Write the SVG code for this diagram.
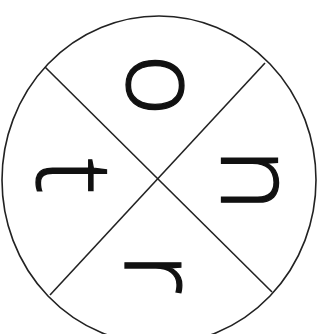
<svg xmlns="http://www.w3.org/2000/svg" width="325" height="334" viewBox="0 0 325 334">
<style>
.ln{stroke:#222;stroke-width:1.6;fill:none}
.lt{font-family:"Open Sans","Liberation Sans",sans-serif;font-weight:300;font-size:105px;fill:#111;stroke:#111;stroke-width:1.3;text-anchor:middle}
</style>
<rect width="325" height="334" fill="#fff"/>
<g id="connectors">
<ellipse class="ln" cx="159" cy="180" rx="157" ry="164"/>
<line class="ln" x1="45" y1="67" x2="272" y2="292"/>
<line class="ln" x1="265" y1="63" x2="50" y2="295"/>
</g>
<g id="o"><text class="lt" x="127" y="85" transform="rotate(90 127 85)">o</text></g>
<g id="n"><text class="lt" x="222" y="180" transform="rotate(90 222 180)">n</text></g>
<g id="r"><text class="lt" x="125" y="274" transform="rotate(90 125 274)">r</text></g>
<g id="t"><text class="lt" x="37" y="176" transform="rotate(90 37 176)">t</text></g>
</svg>
